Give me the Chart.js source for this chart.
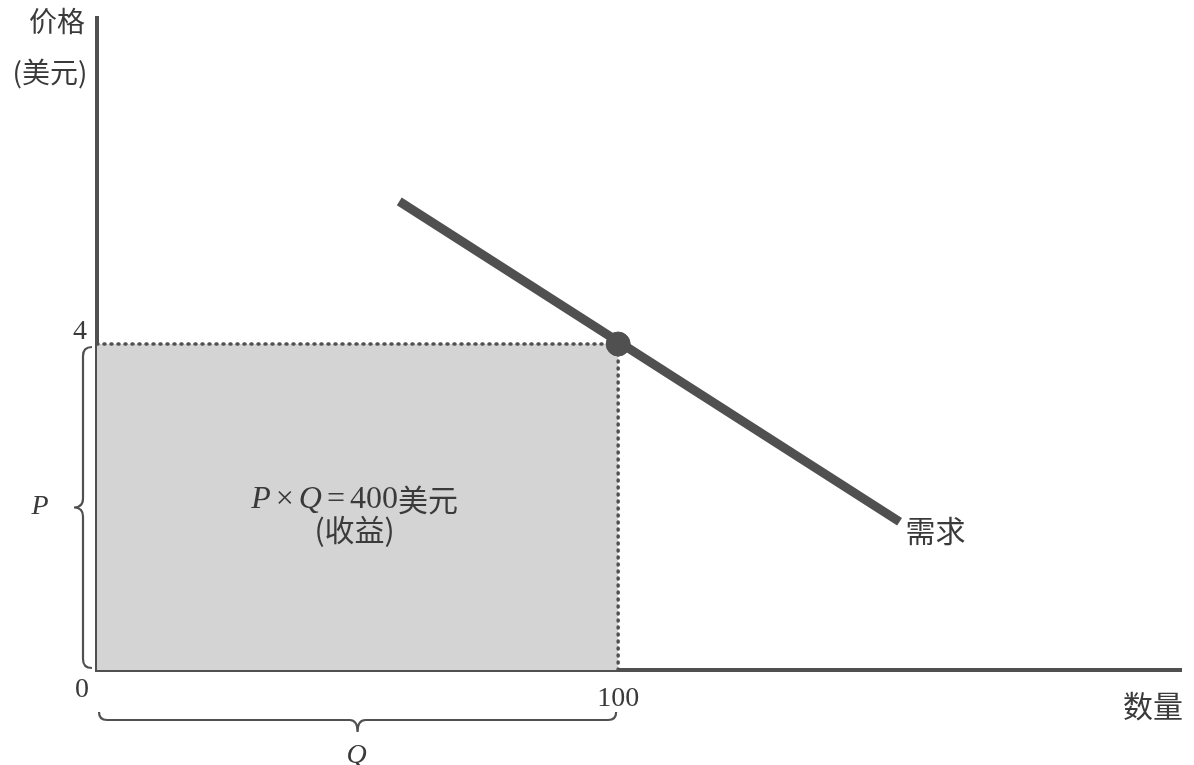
<!DOCTYPE html>
<html><head><meta charset="utf-8">
<script src="https://cdn.jsdelivr.net/npm/chart.js@4/dist/chart.umd.min.js"></script>
<style>html,body{margin:0;padding:0;background:#fff}#wrap{width:1194px;height:765px;position:relative}</style>
</head><body><div id="wrap"><canvas id="c"></canvas></div>
<script>
const quantityTicks = [100];
const priceTicks = [4];
const quantityRange = [0, 208];
const priceRange = [0, 8];
const revenueQuantity = [0, 100];
const revenuePrice = [4, 4];
const dropQuantity = [100, 100];
const dropPrice = [0, 4];
const demandQuantity = [58, 154];
const demandPrice = [5.75, 1.82];
const equilibriumQuantity = [100];
const equilibriumPrice = [4];
const yTitle = ['价格', '(美元)'];
const xTitle = '数量';
const demandLabel = '需求';
const revenueLine2 = '(收益)';
const originLabel = '0';

const pts = (xs, ys) => xs.map((x, i) => ({x, y: ys[i]}));
const INK = '#505050';
const TEXT = '#3a3a3a';
const SERIF = '"Liberation Serif", "DejaVu Serif", serif';
const CJK = '"Noto Sans CJK SC", sans-serif';

function brace(ctx, ax, ay, bx, by, half, tip) {
  const dx = bx - ax, dy = by - ay, L = Math.hypot(dx, dy);
  ctx.save();
  ctx.translate(ax, ay);
  ctx.rotate(Math.atan2(dy, dx));
  const r = Math.min(10, half);
  const m = L / 2;
  ctx.beginPath();
  ctx.moveTo(0, 0);
  ctx.quadraticCurveTo(0, -half, r, -half);
  ctx.lineTo(m - r, -half);
  ctx.quadraticCurveTo(m, -half, m, -tip);
  ctx.quadraticCurveTo(m, -half, m + r, -half);
  ctx.lineTo(L - r, -half);
  ctx.quadraticCurveTo(L, -half, L, 0);
  ctx.stroke();
  ctx.restore();
}

const annot = {
  id: 'annot',
  afterDraw(chart) {
    const ctx = chart.ctx, xs = chart.scales.x, ys = chart.scales.y;
    const x0 = xs.getPixelForValue(0), y0 = ys.getPixelForValue(0);
    ctx.save();
    ctx.fillStyle = TEXT;
    ctx.textBaseline = 'middle';
    ctx.textAlign = 'center';
    ctx.font = '28px ' + CJK;
    ctx.fillText(yTitle[0], x0 - 40, 21);
    ctx.fillText(yTitle[1], x0 - 47, 72);
    ctx.font = '30px ' + CJK;
    ctx.fillText(xTitle, xs.right - 28, y0 + 36);
    ctx.font = '28px ' + SERIF;
    ctx.fillText(originLabel, x0 - 15, y0 + 20);
    ctx.textAlign = 'left';
    ctx.font = '30px ' + CJK;
    const ex = xs.getPixelForValue(demandQuantity[1]), ey = ys.getPixelForValue(demandPrice[1]);
    ctx.fillText(demandLabel, ex + 6, ey + 9);
    const cx = xs.getPixelForValue(revenueQuantity[1] / 2) - 3;
    const parts = [
      ['P', 'italic 32px ' + SERIF, 5],
      ['×', '32px ' + SERIF, 5],
      ['Q', 'italic 32px ' + SERIF, 5],
      ['=', '32px ' + SERIF, 5],
      ['400', '32px ' + SERIF, 0],
      ['美元', '30px ' + CJK, 0]
    ];
    let total = 0;
    parts.forEach(p => { ctx.font = p[1]; p.push(ctx.measureText(p[0]).width); total += p[3] + p[2]; });
    let px = cx - total / 2;
    const ry = ys.getPixelForValue(2.09);
    parts.forEach(p => { ctx.font = p[1]; ctx.fillText(p[0], px, ry); px += p[3] + p[2]; });
    ctx.textAlign = 'center';
    ctx.font = '30px ' + CJK;
    ctx.fillText(revenueLine2, cx, ys.getPixelForValue(1.72));
    ctx.font = 'italic 28px ' + SERIF;
    ctx.fillText('P', 40, ys.getPixelForValue(2));
    ctx.fillText('Q', cx + 2, y0 + 86);
    ctx.strokeStyle = INK;
    ctx.lineWidth = 2.2;
    const yTop = ys.getPixelForValue(revenuePrice[0]);
    brace(ctx, x0 - 5, y0 - 2, x0 - 5, yTop + 3, 9, 18);
    const xR = xs.getPixelForValue(revenueQuantity[1]);
    brace(ctx, xR - 2, y0 + 42, x0 + 2, y0 + 42, 8, 20);
    ctx.restore();
  }
};

new Chart(document.getElementById('c'), {
  type: 'scatter',
  data: {
    datasets: [
      { data: pts(revenueQuantity, revenuePrice), showLine: true, fill: 'origin',
        backgroundColor: '#d4d4d4', borderColor: INK, borderWidth: 3.5, borderDash: [1, 6],
        borderCapStyle: 'round', pointRadius: 0, order: 4 },
      { data: pts(dropQuantity, dropPrice), showLine: true, fill: false,
        borderColor: INK, borderWidth: 3.5, borderDash: [1, 6], borderCapStyle: 'round',
        pointRadius: 0, order: 3 },
      { data: pts(demandQuantity, demandPrice), showLine: true, fill: false,
        borderColor: INK, borderWidth: 9, pointRadius: 0, order: 2 },
      { data: pts(equilibriumQuantity, equilibriumPrice), showLine: false,
        backgroundColor: INK, borderColor: INK, pointRadius: 12, order: 1 }
    ]
  },
  options: {
    responsive: true, maintainAspectRatio: false, animation: false,
    layout: { padding: { top: 18, right: 9, left: 0, bottom: 0 } },
    plugins: { legend: { display: false }, tooltip: { enabled: false } },
    scales: {
      x: {
        type: 'linear', min: quantityRange[0], max: quantityRange[1],
        grid: { display: false, drawTicks: false },
        border: { display: true, color: INK, width: 4 },
        afterFit: s => { s.height = 95; s.paddingLeft = 0; s.paddingRight = 0; },
        afterBuildTicks: s => { s.ticks = quantityTicks.map(v => ({value: v})); },
        ticks: { color: TEXT, font: { family: SERIF, size: 28 }, padding: 12, maxRotation: 0 }
      },
      y: {
        type: 'linear', min: priceRange[0], max: priceRange[1],
        grid: { display: false, drawTicks: false },
        border: { display: true, color: INK, width: 4 },
        afterFit: s => { s.width = 97; s.paddingTop = 0; s.paddingBottom = 0; },
        afterBuildTicks: s => { s.ticks = priceTicks.map(v => ({value: v})); },
        ticks: { color: TEXT, font: { family: SERIF, size: 28 }, padding: 10, labelOffset: -12 }
      }
    }
  },
  plugins: [annot]
});
</script></body></html>
